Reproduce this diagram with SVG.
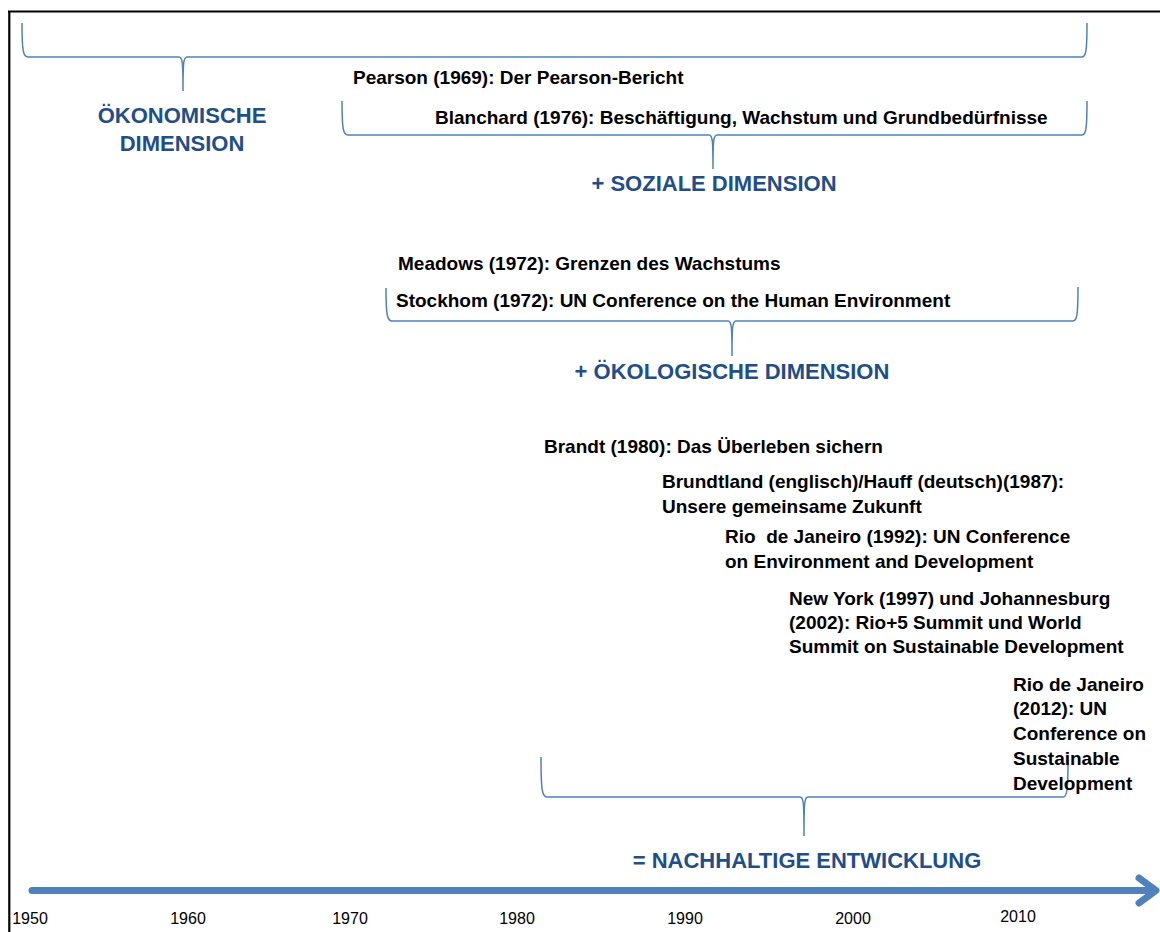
<svg xmlns="http://www.w3.org/2000/svg" width="1160" height="932" viewBox="0 0 1160 932">
<style>
.brace{fill:none;stroke:#4F81BD;stroke-width:1.5}
.ev{font-family:"Liberation Sans",Arial,sans-serif;font-weight:bold;font-size:19px;fill:#000}
.dim{font-family:"Liberation Sans",Arial,sans-serif;font-weight:bold;font-size:22px;fill:#1F4E89}
.yr{font-family:"Liberation Sans",Arial,sans-serif;font-size:16px;fill:#000;text-anchor:middle}
</style>
<rect width="1160" height="932" fill="#fff"/>
<g id="frame">
<path d="M8,11.5 H1160 M9.3,11 V932" fill="none" stroke="#000" stroke-width="2.2"/>
</g>
<g id="connectors">
<path id="brace-oek" class="brace" d="M22,23 C22,50 23,57 28,57 L179,57 C182.5,57 183,62 183,91 C183,62 183.5,57 187,57 L1082,57 C1086,57 1087,50 1087,23"/>
<path id="brace-soz" class="brace" d="M342,101 C342,128 343,135 348,135 L709,135 C712.5,135 713,140 713,169 C713,140 713.5,135 717,135 L1082,135 C1086,135 1087,128 1087,101"/>
<path id="brace-oekol" class="brace" d="M386,288 C386,314 387,321 392,321 L728,321 C731.5,321 732,326 732,356 C732,326 732.5,321 736,321 L1073,321 C1077,321 1078,314 1078,287"/>
<path id="brace-nach" class="brace" d="M541,757 C541,790 542,797 547,797 L800,797 C803.5,797 804,802 804,836 C804,802 804.5,797 808,797 L1063,797 C1067,797 1068,790 1068,760"/>
<g id="timeline" stroke="#4F81BD" stroke-width="7" fill="none" stroke-linecap="round" stroke-linejoin="round">
<path d="M32,890.5 H1153"/>
<path d="M1139,878 L1156,890.5 L1139,903"/>
</g>
</g>
<g id="oekonomische">
<text class="dim" x="182" y="123" text-anchor="middle">ÖKONOMISCHE</text>
<text class="dim" x="182" y="151" text-anchor="middle">DIMENSION</text>
</g>
<g id="pearson"><text class="ev" x="353" y="84">Pearson (1969): Der Pearson-Bericht</text></g>
<g id="blanchard"><text class="ev" x="435" y="124">Blanchard (1976): Beschäftigung, Wachstum und Grundbedürfnisse</text></g>
<g id="soziale"><text class="dim" x="714" y="191" text-anchor="middle">+ SOZIALE DIMENSION</text></g>
<g id="meadows"><text class="ev" x="398" y="270">Meadows (1972): Grenzen des Wachstums</text></g>
<g id="stockhom"><text class="ev" x="396" y="307">Stockhom (1972): UN Conference on the Human Environment</text></g>
<g id="oekologische"><text class="dim" x="732" y="379" text-anchor="middle">+ ÖKOLOGISCHE DIMENSION</text></g>
<g id="brandt"><text class="ev" x="544" y="453">Brandt (1980): Das Überleben sichern</text></g>
<g id="brundtland">
<text class="ev" x="662" y="488">Brundtland (englisch)/Hauff (deutsch)(1987):</text>
<text class="ev" x="662" y="513">Unsere gemeinsame Zukunft</text>
</g>
<g id="rio1992">
<text class="ev" x="725" y="543" xml:space="preserve">Rio  de Janeiro (1992): UN Conference</text>
<text class="ev" x="725" y="568">on Environment and Development</text>
</g>
<g id="newyork">
<text class="ev" x="789" y="605">New York (1997) und Johannesburg</text>
<text class="ev" x="789" y="629">(2002): Rio+5 Summit und World</text>
<text class="ev" x="789" y="653">Summit on Sustainable Development</text>
</g>
<g id="rio2012">
<text class="ev" x="1013" y="691">Rio de Janeiro</text>
<text class="ev" x="1013" y="715">(2012): UN</text>
<text class="ev" x="1013" y="740">Conference on</text>
<text class="ev" x="1013" y="765">Sustainable</text>
<text class="ev" x="1013" y="790">Development</text>
</g>
<g id="nachhaltige"><text class="dim" x="807" y="868" text-anchor="middle">= NACHHALTIGE ENTWICKLUNG</text></g>
<g id="years">
<text class="yr" x="30" y="924">1950</text>
<text class="yr" x="188" y="924">1960</text>
<text class="yr" x="350" y="924">1970</text>
<text class="yr" x="517" y="924">1980</text>
<text class="yr" x="685" y="924">1990</text>
<text class="yr" x="853" y="924">2000</text>
<text class="yr" x="1018" y="922">2010</text>
</g>
</svg>
